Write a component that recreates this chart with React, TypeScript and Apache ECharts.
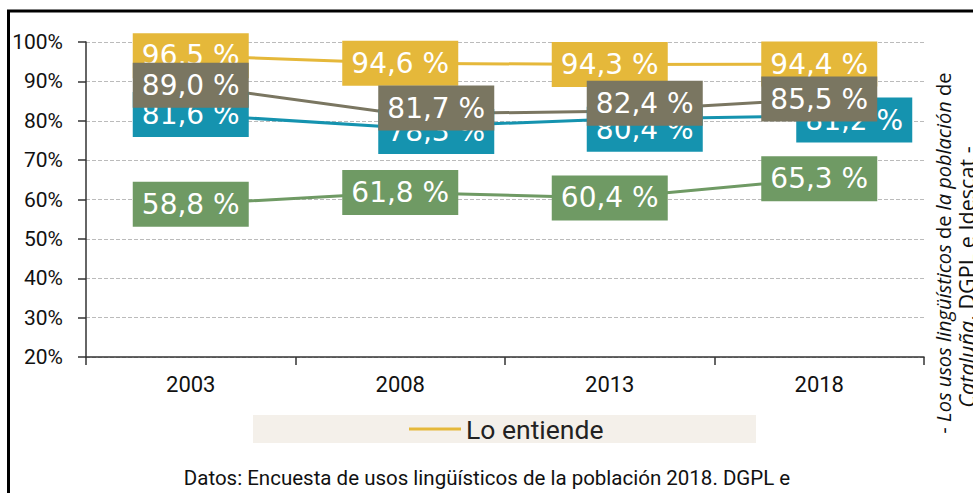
import React, { useEffect, useRef } from "react";
import * as echarts from "echarts";

const years = ["2003", "2008", "2013", "2018"];
const entiende = [96.5, 94.6, 94.3, 94.4];
const habla = [81.6, 78.3, 80.4, 81.2];
const lee = [89.0, 81.7, 82.4, 85.5];
const escribe = [58.8, 61.8, 60.4, 65.3];

const seriesNames = ["Lo entiende", "Lo sabe hablar", "Lo sabe escribir", "Lo sabe leer"];
const colors = ["#E5B83A", "#1593AF", "#6F9A64", "#7A7661"];

const sourceText = "Datos: Encuesta de usos lingüísticos de la población 2018. DGPL e";
// side note fragments: [text, italic]
const sideLine1: [string, boolean][] = [
  ["- Los usos lingüísticos", true],
  [" de ", false],
  ["la población", true],
  [" de", false],
];
const sideLine2: [string, boolean][] = [
  ["Cataluña", true],
  [". DGPL e Idescat -", false],
];

// label box offsets (px) relative to the point
const zeroOffsets = [[0, 0], [0, 0], [0, 0], [0, 0]];
const hablaOffsets = [[0, 0], [36, 4], [35, 10], [35, 4]];
const leeOffsets = [[0, 0], [36, -6], [35, -8], [0, 0]];

const fmt = (p: any) => p.value.toFixed(1).replace(".", ",") + " %";

function makeSeries(name: string, values: number[], color: string, offsets: number[][]) {
  return {
    name,
    type: "line",
    symbol: "circle",
    symbolSize: 1,
    lineStyle: { color, width: 3 },
    itemStyle: { color },
    data: values.map((v, i) => ({ value: v, label: { offset: offsets[i] } })),
    label: {
      show: true,
      position: "inside",
      formatter: fmt,
      color: "#ffffff",
      fontFamily: "DejaVu Sans",
      fontSize: 28,
      backgroundColor: color,
      width: 100,
      height: 33,
      lineHeight: 33,
      align: "center",
      verticalAlign: "middle",
      padding: [6, 8],
    },
  };
}

const SIDE_FONT = "Open Sans";

function measure(ctx: CanvasRenderingContext2D | null, text: string, italic: boolean, size: number) {
  if (!ctx) return text.length * size * 0.52;
  ctx.font = `${italic ? "italic " : ""}${size}px "${SIDE_FONT}"`;
  return ctx.measureText(text).width;
}

function sideElements(
  ctx: CanvasRenderingContext2D | null,
  frags: [string, boolean][],
  x: number,
  centerY: number,
  size: number
) {
  const widths = frags.map(([t, it]) => measure(ctx, t, it, size));
  const total = widths.reduce((a, b) => a + b, 0);
  let cursor = centerY + total / 2;
  return frags.map(([t, it], i) => {
    const el = {
      type: "text",
      x,
      y: cursor,
      rotation: Math.PI / 2,
      style: {
        text: t,
        align: "left",
        verticalAlign: "middle",
        fill: "#111",
        fontSize: size,
        fontStyle: it ? "italic" : "normal",
        fontFamily: SIDE_FONT,
      },
    };
    cursor -= widths[i];
    return el;
  });
}

export default function App() {
  const ref = useRef<HTMLDivElement>(null);
  useEffect(() => {
    if (!ref.current) return;
    const canvas = document.createElement("canvas");
    const ctx = canvas.getContext("2d");
    // fit the first side line to its span in the picture
    const base = sideLine1.reduce((s, [t, it]) => s + measure(ctx, t, it, 20), 0);
    const sideSize = Math.min(20, (20 * 387) / base);

    const chart = echarts.init(ref.current, null, { renderer: "svg" });
    chart.setOption({
      animation: false,
      backgroundColor: "#ffffff",
      grid: { left: 86, right: 49, top: 42, bottom: 136 },
      xAxis: {
        type: "category",
        data: years,
        axisLine: { lineStyle: { color: "#333", width: 1.5 } },
        axisTick: { show: true, length: 8, lineStyle: { color: "#333", width: 1.5 } },
        axisLabel: { color: "#111", fontSize: 22, fontFamily: "Roboto", margin: 16 },
      },
      yAxis: {
        type: "value",
        min: 20,
        max: 100,
        interval: 10,
        axisLine: { show: true, lineStyle: { color: "#333", width: 1.5 } },
        axisTick: { show: true, length: 8, lineStyle: { color: "#333", width: 1.5 } },
        axisLabel: { color: "#111", fontSize: 21, fontFamily: "Roboto", margin: 23, formatter: "{value}%" },
        splitLine: { show: true, lineStyle: { color: "#bbb", type: "dashed", width: 1 } },
      },
      legend: {
        data: ["Lo entiende"],
        left: 409,
        top: 415,
        padding: 0,
        icon: "rect",
        itemWidth: 52,
        itemHeight: 3,
        textStyle: { color: "#222", fontSize: 26.5, fontFamily: "Roboto", lineHeight: 28 },
      },
      graphic: [
        {
          type: "rect",
          z: -10,
          shape: { x: 253, y: 415, width: 503, height: 28 },
          style: { fill: "#F4F0EA" },
        },
        {
          type: "rect",
          z: 100,
          shape: { x: 8.5, y: 11, width: 1000, height: 600 },
          style: { fill: "none", stroke: "#000", lineWidth: 3 },
        },
        {
          type: "text",
          x: 487,
          y: 478,
          style: {
            text: sourceText,
            fill: "#111",
            fontSize: 20.5,
            fontFamily: "Roboto",
            align: "center",
            verticalAlign: "middle",
          },
        },
        ...sideElements(ctx, sideLine1, 943, 253, sideSize),
        ...sideElements(ctx, sideLine2, 966, 277, sideSize * 1.08),
      ],
      series: [
        makeSeries(seriesNames[0], entiende, colors[0], zeroOffsets),
        makeSeries(seriesNames[1], habla, colors[1], hablaOffsets),
        makeSeries(seriesNames[2], escribe, colors[2], zeroOffsets),
        makeSeries(seriesNames[3], lee, colors[3], leeOffsets),
      ],
    });
    return () => chart.dispose();
  }, []);
  return (
    <div
      ref={ref}
      style={{ position: "absolute", left: 0, top: 0, width: 973, height: 493 }}
    />
  );
}
